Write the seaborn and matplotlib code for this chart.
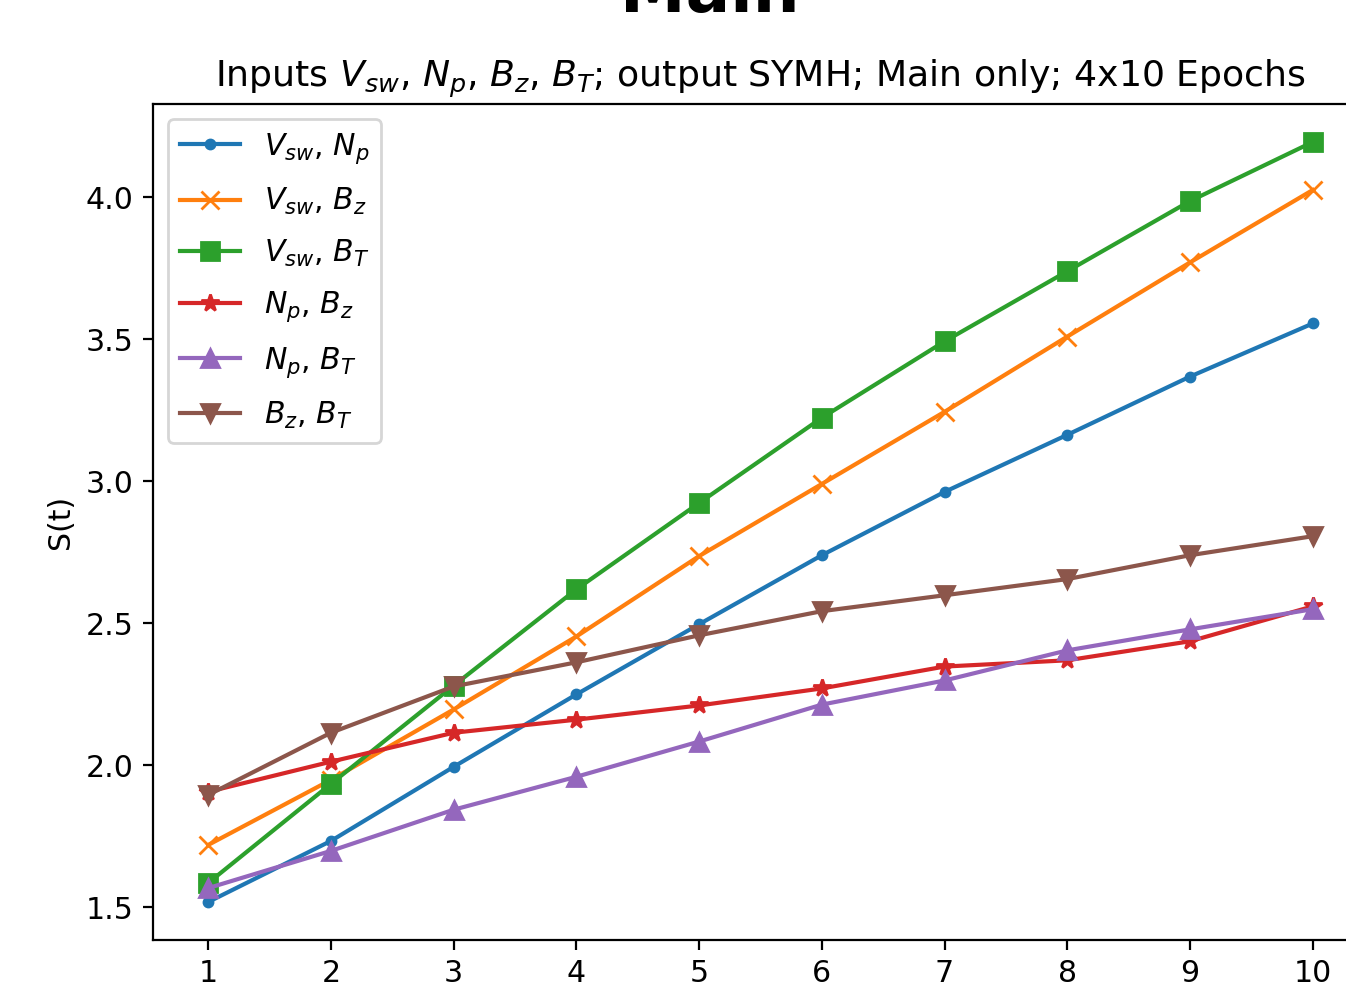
import matplotlib
matplotlib.use("Agg")
import matplotlib.pyplot as plt
import seaborn as sns
import pandas as pd

epochs = [1, 2, 3, 4, 5, 6, 7, 8, 9, 10]
labels = ["$V_{sw}$, $N_p$", "$V_{sw}$, $B_z$", "$V_{sw}$, $B_T$",
          "$N_p$, $B_z$", "$N_p$, $B_T$", "$B_z$, $B_T$"]
vsw_np = [1.518, 1.733, 1.994, 2.249, 2.496, 2.739, 2.962, 3.163, 3.368, 3.555]
vsw_bz = [1.719, 1.948, 2.196, 2.453, 2.736, 2.990, 3.244, 3.509, 3.770, 4.025]
vsw_bt = [1.585, 1.934, 2.280, 2.619, 2.923, 3.223, 3.492, 3.739, 3.986, 4.194]
np_bz = [1.906, 2.012, 2.114, 2.160, 2.210, 2.270, 2.347, 2.369, 2.436, 2.559]
np_bt = [1.567, 1.698, 1.843, 1.959, 2.083, 2.213, 2.298, 2.404, 2.478, 2.549]
bz_bt = [1.895, 2.114, 2.277, 2.362, 2.457, 2.542, 2.598, 2.655, 2.739, 2.806]
series = [vsw_np, vsw_bz, vsw_bt, np_bz, np_bt, bz_bt]
markers = [".", "x", "s", "*", "^", "v"]
colors = ["#1f77b4", "#ff7f0e", "#2ca02c", "#d62728", "#9467bd", "#8c564b"]

DPI = 200
def pt(px):
    return px * 72.0 / DPI

fig = plt.figure(figsize=(1346 / DPI, 1000 / DPI), dpi=DPI)
W, H = 1346, 1000
ax = fig.add_axes([153 / W, (H - 940) / H, (1368 - 153) / W, (940 - 104) / H])

for lab, vals, m, c in zip(labels, series, markers, colors):
    df = pd.DataFrame({"epoch": epochs, "S": vals})
    sns.lineplot(data=df, x="epoch", y="S", ax=ax, color=c, marker=m,
                 markeredgecolor=c, markeredgewidth=1.0, markersize=6.5,
                 linewidth=1.5, label=lab)

ax.set_xticks(epochs)
ax.set_xlabel("")
ax.set_ylabel("S(t)", fontsize=pt(30))
ax.tick_params(labelsize=pt(30))
ax.set_title("Inputs $V_{sw}$, $N_p$, $B_z$, $B_T$; output SYMH; Main only; 4x10 Epochs",
             fontsize=pt(36.3))
ax.legend(loc="upper left", fontsize=pt(30), labelspacing=0.68)
fig.text(710 / W, 1 - 12 / H, "Main", ha="center", va="baseline",
         fontsize=pt(66), fontweight="bold")

fig.savefig("out.png", dpi=DPI)
